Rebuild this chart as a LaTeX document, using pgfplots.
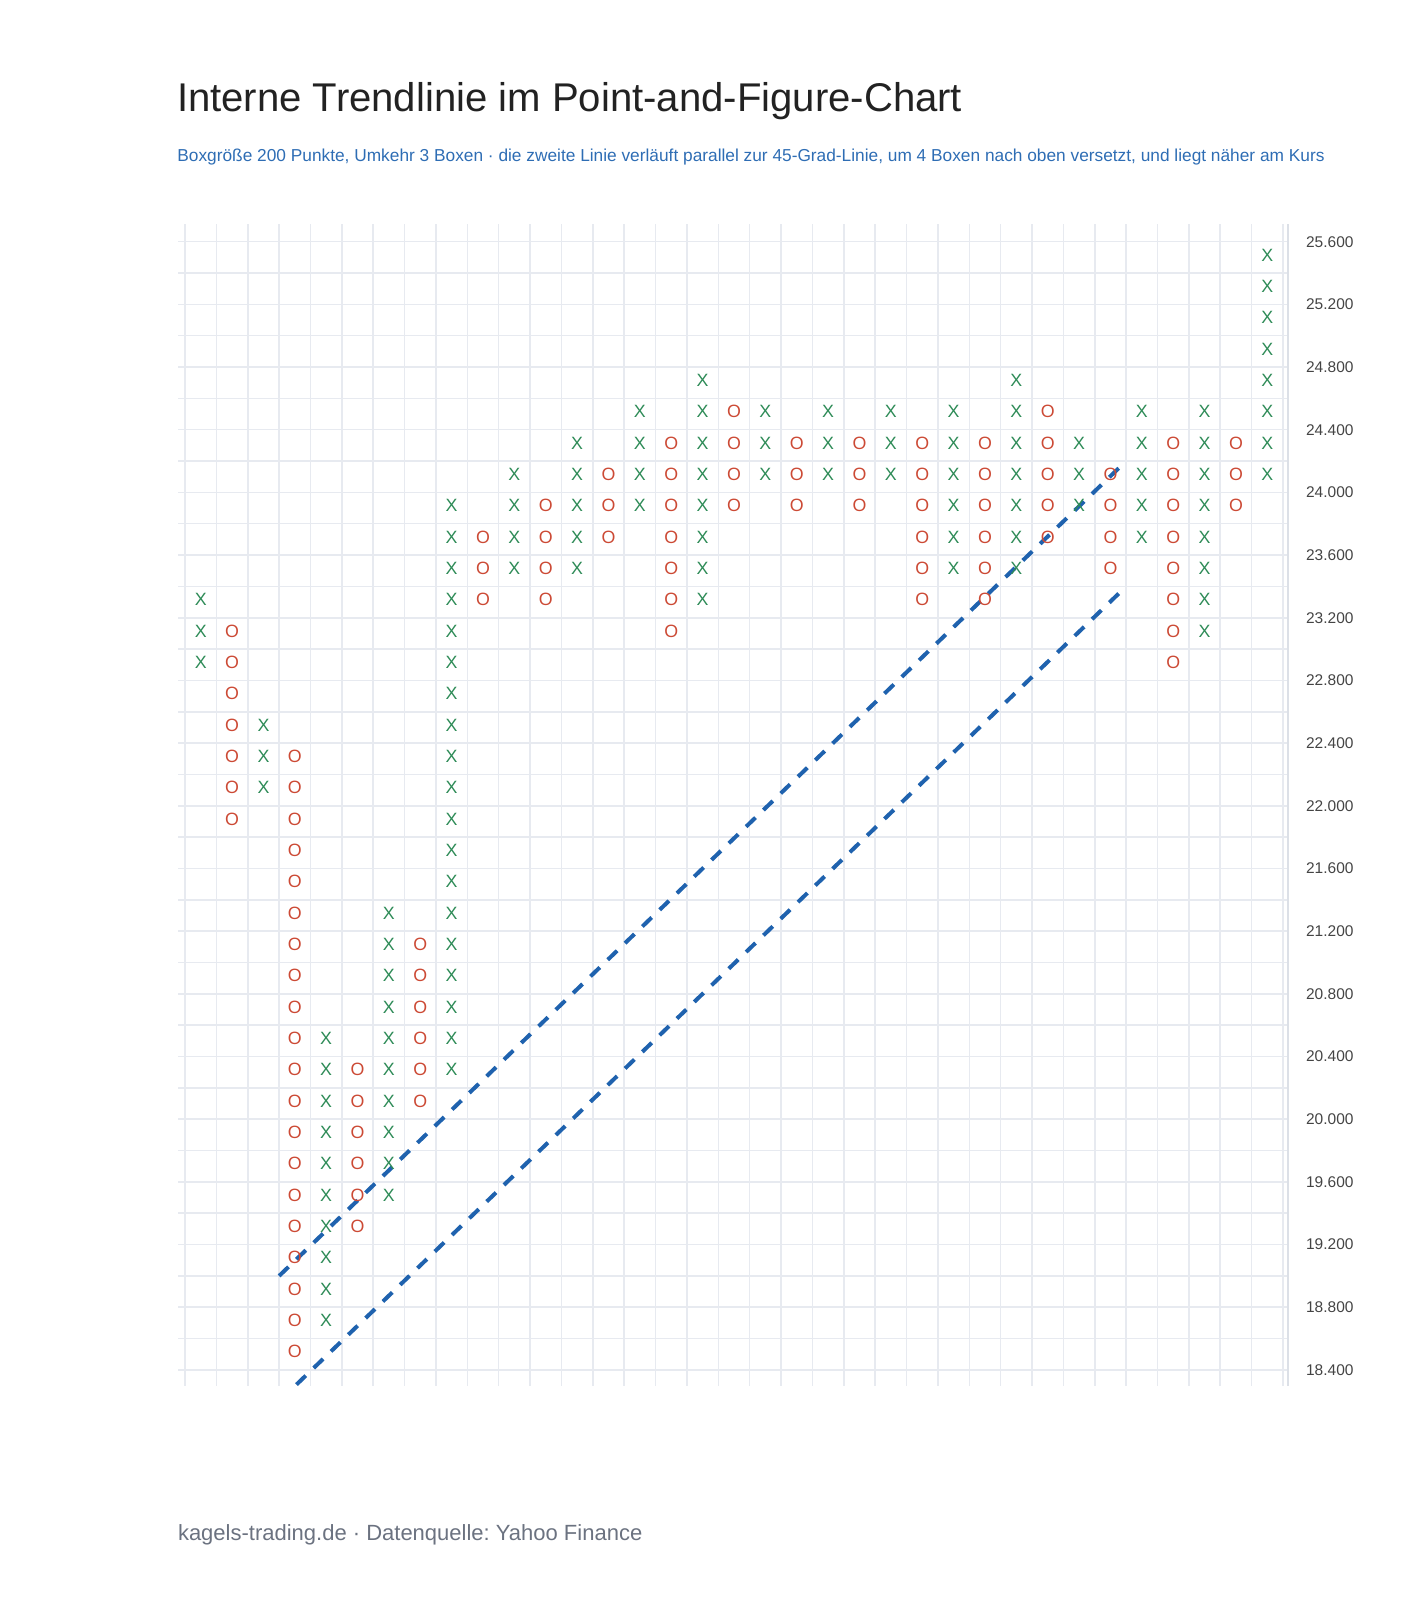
\documentclass[border=0pt]{standalone}
\usepackage{pgfplots}
\usepackage{pgfplotstable}
\pgfplotsset{compat=1.18}
\usepackage{fontspec}
\setmainfont{Liberation Sans}
\frenchspacing
\definecolor{xgreen}{HTML}{2E8B57}
\definecolor{ored}{HTML}{CC4A35}
\definecolor{tblue}{HTML}{1F62AE}
\definecolor{gridc}{HTML}{E7EAF0}
\definecolor{axisc}{HTML}{DCE0E7}
\definecolor{subblue}{HTML}{2E6DB4}
\definecolor{titlec}{HTML}{222222}
\definecolor{footc}{HTML}{6B7280}
\definecolor{tickc}{HTML}{444444}

% X boxes: column index, box centre value
\pgfplotstableread[row sep=\\]{
x y \\
0 22900\\ 0 23100\\ 0 23300\\
2 22100\\ 2 22300\\ 2 22500\\
4 18700\\ 4 18900\\ 4 19100\\ 4 19300\\ 4 19500\\ 4 19700\\ 4 19900\\ 4 20100\\ 4 20300\\ 4 20500\\
6 19500\\ 6 19700\\ 6 19900\\ 6 20100\\ 6 20300\\ 6 20500\\ 6 20700\\ 6 20900\\ 6 21100\\ 6 21300\\
8 20300\\ 8 20500\\ 8 20700\\ 8 20900\\ 8 21100\\ 8 21300\\ 8 21500\\ 8 21700\\ 8 21900\\ 8 22100\\ 8 22300\\ 8 22500\\ 8 22700\\ 8 22900\\ 8 23100\\ 8 23300\\ 8 23500\\ 8 23700\\ 8 23900\\
10 23500\\ 10 23700\\ 10 23900\\ 10 24100\\
12 23500\\ 12 23700\\ 12 23900\\ 12 24100\\ 12 24300\\
14 23900\\ 14 24100\\ 14 24300\\ 14 24500\\
16 23300\\ 16 23500\\ 16 23700\\ 16 23900\\ 16 24100\\ 16 24300\\ 16 24500\\ 16 24700\\
18 24100\\ 18 24300\\ 18 24500\\
20 24100\\ 20 24300\\ 20 24500\\
22 24100\\ 22 24300\\ 22 24500\\
24 23500\\ 24 23700\\ 24 23900\\ 24 24100\\ 24 24300\\ 24 24500\\
26 23500\\ 26 23700\\ 26 23900\\ 26 24100\\ 26 24300\\ 26 24500\\ 26 24700\\
28 23900\\ 28 24100\\ 28 24300\\
30 23700\\ 30 23900\\ 30 24100\\ 30 24300\\ 30 24500\\
32 23100\\ 32 23300\\ 32 23500\\ 32 23700\\ 32 23900\\ 32 24100\\ 32 24300\\ 32 24500\\
34 24100\\ 34 24300\\ 34 24500\\ 34 24700\\ 34 24900\\ 34 25100\\ 34 25300\\ 34 25500\\
}\xdata

% O boxes: column index, box centre value
\pgfplotstableread[row sep=\\]{
x y \\
1 21900\\ 1 22100\\ 1 22300\\ 1 22500\\ 1 22700\\ 1 22900\\ 1 23100\\
3 18500\\ 3 18700\\ 3 18900\\ 3 19100\\ 3 19300\\ 3 19500\\ 3 19700\\ 3 19900\\ 3 20100\\ 3 20300\\ 3 20500\\ 3 20700\\ 3 20900\\ 3 21100\\ 3 21300\\ 3 21500\\ 3 21700\\ 3 21900\\ 3 22100\\ 3 22300\\
5 19300\\ 5 19500\\ 5 19700\\ 5 19900\\ 5 20100\\ 5 20300\\
7 20100\\ 7 20300\\ 7 20500\\ 7 20700\\ 7 20900\\ 7 21100\\
9 23300\\ 9 23500\\ 9 23700\\
11 23300\\ 11 23500\\ 11 23700\\ 11 23900\\
13 23700\\ 13 23900\\ 13 24100\\
15 23100\\ 15 23300\\ 15 23500\\ 15 23700\\ 15 23900\\ 15 24100\\ 15 24300\\
17 23900\\ 17 24100\\ 17 24300\\ 17 24500\\
19 23900\\ 19 24100\\ 19 24300\\
21 23900\\ 21 24100\\ 21 24300\\
23 23300\\ 23 23500\\ 23 23700\\ 23 23900\\ 23 24100\\ 23 24300\\
25 23300\\ 25 23500\\ 25 23700\\ 25 23900\\ 25 24100\\ 25 24300\\
27 23700\\ 27 23900\\ 27 24100\\ 27 24300\\ 27 24500\\
29 23500\\ 29 23700\\ 29 23900\\ 29 24100\\
31 22900\\ 31 23100\\ 31 23300\\ 31 23500\\ 31 23700\\ 31 23900\\ 31 24100\\ 31 24300\\
33 23900\\ 33 24100\\ 33 24300\\
}\odata

\begin{document}
\begin{tikzpicture}
\path[use as bounding box] (0,0) rectangle (713.5pt,800pt);
\node[anchor=base west, font=\fontsize{20.05pt}{24pt}\selectfont, text=titlec, inner sep=0pt] at (88.3pt,744.15pt) {Interne Trendlinie im Point-and-Figure-Chart};
\node[anchor=base west, font=\fontsize{8.65pt}{10pt}\selectfont, text=subblue, inner sep=0pt] at (88.5pt,719.15pt) {Boxgröße 200 Punkte, Umkehr 3 Boxen · die zweite Linie verläuft parallel zur 45-Grad-Linie, um 4 Boxen nach oben versetzt, und liegt näher am Kurs};
\node[anchor=base west, font=\fontsize{11pt}{13pt}\selectfont, text=footc, inner sep=0pt] at (88.8pt,29.65pt) {kagels-trading.de · Datenquelle: Yahoo Finance};
\begin{axis}[
  at={(89.15pt,107.2pt)}, anchor=south west,
  scale only axis, width=555pt, height=580.8pt,
  xmin=-0.714, xmax=34.67, ymin=18300, ymax=25713,
  xtick={-0.5,0.5,...,34.5}, xticklabels={},
  ytick={18400,18800,...,25600}, minor ytick={18600,19000,...,25400},
  grid=both,
  major grid style={draw=gridc, line width=0.75pt},
  minor grid style={draw=gridc, line width=0.75pt},
  tick style={draw=none},
  axis x line*=bottom, axis y line*=right,
  axis line style={-},
  x axis line style={draw=none},
  y axis line style={draw=axisc, line width=0.9pt},
  yticklabel pos=right,
  scaled y ticks=false,
  /pgf/number format/1000 sep={.},
  /pgf/number format/assume math mode=true,
  yticklabel style={font=\fontsize{7.75pt}{9pt}\selectfont, text=tickc, anchor=west, inner sep=0pt, xshift=8.7pt},
]
\addplot[color=xgreen, only marks, mark=text, text mark={X}, text mark as node=true,
  text mark style={font=\fontsize{8.9pt}{8.9pt}\selectfont, text=xgreen, inner sep=0pt, yshift=1.2pt}]
  table[x=x,y=y]{\xdata};
\addplot[color=ored, only marks, mark=text, text mark={O}, text mark as node=true,
  text mark style={font=\fontsize{8.9pt}{8.9pt}\selectfont, text=ored, inner sep=0pt, yshift=1.2pt}]
  table[x=x,y=y]{\odata};
\addplot[tblue, line width=2pt, dash pattern=on 6.5pt off 5.5pt] coordinates {(2.5,19000) (29.5,24200)};
\addplot[tblue, line width=2pt, dash pattern=on 6.5pt off 5.5pt] coordinates {(2.5,18200) (29.5,23400)};
\end{axis}
\end{tikzpicture}
\end{document}
